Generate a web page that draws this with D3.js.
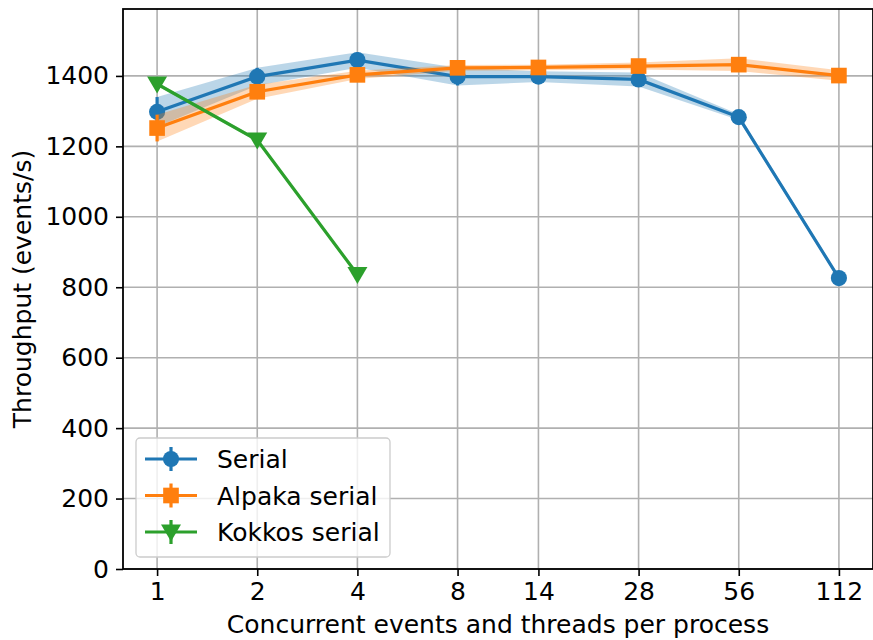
<!DOCTYPE html>
<html>
<head>
<meta charset="utf-8">
<script src="https://cdnjs.cloudflare.com/ajax/libs/d3/7.8.5/d3.min.js"></script>
<style>
  body { margin: 0; background: #fff; }
  svg { display: block; font-family: "DejaVu Sans", sans-serif; }
</style>
</head>
<body>
<div id="chart"></div>
<script>
var width = 873,
    height = 640;

// data
var threads = [1, 2, 4, 8, 14, 28, 56, 112];
var serial = [1298, 1398, 1445, 1398, 1398, 1390, 1283, 826];
var serialErr = [42, 25, 22, 25, 15, 20, 8, 6];
var alpaka = [1252, 1355, 1403, 1423, 1424, 1428, 1432, 1401];
var alpakaErr = [38, 20, 12, 8, 8, 10, 18, 15];
var kokkosThreads = [1, 2, 4];
var kokkos = [1377, 1218, 836];
var kokkosErr = [5, 5, 5];
var yTicks = [0, 200, 400, 600, 800, 1000, 1200, 1400];

var series = [
    {name: "Serial", x: threads, y: serial, err: serialErr, color: "#1f77b4", marker: "circle"},
    {name: "Alpaka serial", x: threads, y: alpaka, err: alpakaErr, color: "#ff7f0e", marker: "square"},
    {name: "Kokkos serial", x: kokkosThreads, y: kokkos, err: kokkosErr, color: "#2ca02c", marker: "tri"}
];

var plot = {left: 123, right: 873, top: 9, bottom: 569};
var fontSize = "25px";

// log2 axis with matplotlib style 5% padding
var lmax = Math.log2(112),
    pad = lmax * 0.05;
var x = d3.scaleLog().base(2)
    .domain([Math.pow(2, -pad), Math.pow(2, lmax + pad)])
    .range([plot.left, plot.right]);

var y = d3.scaleLinear()
    .domain([0, 1590])
    .range([plot.bottom, plot.top]);

var svg = d3.select("#chart").append("svg")
    .attr("width", width)
    .attr("height", height);

// grid
svg.append("g").selectAll("line")
    .data(threads)
    .enter().append("line")
    .attr("x1", function(d) { return x(d); })
    .attr("x2", function(d) { return x(d); })
    .attr("y1", plot.top)
    .attr("y2", plot.bottom)
    .attr("stroke", "#b0b0b0")
    .attr("stroke-width", 1.6);

svg.append("g").selectAll("line")
    .data(yTicks)
    .enter().append("line")
    .attr("x1", plot.left)
    .attr("x2", plot.right)
    .attr("y1", function(d) { return y(d); })
    .attr("y2", function(d) { return y(d); })
    .attr("stroke", "#b0b0b0")
    .attr("stroke-width", 1.6);

var markerPath = function(type, size) {
    if (type === "circle") {
        return d3.symbol().type(d3.symbolCircle).size(size)();
    } else if (type === "square") {
        return d3.symbol().type(d3.symbolSquare).size(size)();
    }
    var s = 10;
    return "M" + (-s) + "," + (-s * 0.75) + "L" + s + "," + (-s * 0.75) + "L0," + (s * 0.95) + "Z";
};

var markerSize = {circle: 205, square: 245, tri: 0};

series.forEach(function(s) {
    var pts = s.x.map(function(t, i) { return {t: t, v: s.y[i], e: s.err[i]}; });

    var area = d3.area()
        .x(function(d) { return x(d.t); })
        .y0(function(d) { return y(d.v - d.e); })
        .y1(function(d) { return y(d.v + d.e); });

    svg.append("path")
        .datum(pts)
        .attr("d", area)
        .attr("fill", s.color)
        .attr("fill-opacity", 0.3);

    var line = d3.line()
        .x(function(d) { return x(d.t); })
        .y(function(d) { return y(d.v); });

    svg.append("path")
        .datum(pts)
        .attr("d", line)
        .attr("fill", "none")
        .attr("stroke", s.color)
        .attr("stroke-width", 3.2);

    svg.append("g").selectAll("line")
        .data(pts)
        .enter().append("line")
        .attr("x1", function(d) { return x(d.t); })
        .attr("x2", function(d) { return x(d.t); })
        .attr("y1", function(d) { return y(d.v - d.e); })
        .attr("y2", function(d) { return y(d.v + d.e); })
        .attr("stroke", s.color)
        .attr("stroke-width", 3.2);

    svg.append("g").selectAll("path")
        .data(pts)
        .enter().append("path")
        .attr("transform", function(d) { return "translate(" + x(d.t) + "," + y(d.v) + ")"; })
        .attr("d", markerPath(s.marker, markerSize[s.marker]))
        .attr("fill", s.color);
});

// spines
svg.append("rect")
    .attr("x", plot.left)
    .attr("y", plot.top)
    .attr("width", plot.right - plot.left)
    .attr("height", plot.bottom - plot.top)
    .attr("fill", "none")
    .attr("stroke", "#000")
    .attr("stroke-width", 1.8);

// axes
var xAxis = d3.axisBottom(x)
    .tickValues(threads)
    .tickFormat(d3.format("d"))
    .tickSize(7)
    .tickPadding(6);

var gx = svg.append("g")
    .attr("transform", "translate(0," + plot.bottom + ")")
    .call(xAxis);

var yAxis = d3.axisLeft(y)
    .tickValues(yTicks)
    .tickFormat(d3.format("d"))
    .tickSize(7)
    .tickPadding(7);

var gy = svg.append("g")
    .attr("transform", "translate(" + plot.left + ",0)")
    .call(yAxis);

[gx, gy].forEach(function(g) {
    g.select(".domain").remove();
    g.selectAll(".tick line").attr("stroke", "#000").attr("stroke-width", 1.6);
    g.selectAll(".tick text")
        .attr("fill", "#000")
        .style("font-size", fontSize)
        .style("font-family", "DejaVu Sans");
});

svg.append("text")
    .attr("x", (plot.left + plot.right) / 2)
    .attr("y", 633)
    .attr("text-anchor", "middle")
    .style("font-size", fontSize)
    .text("Concurrent events and threads per process");

svg.append("text")
    .attr("transform", "translate(31," + ((plot.top + plot.bottom) / 2) + ") rotate(-90)")
    .attr("text-anchor", "middle")
    .style("font-size", fontSize)
    .text("Throughput (events/s)");

// legend
var legend = svg.append("g");

legend.append("rect")
    .attr("x", 136)
    .attr("y", 438)
    .attr("width", 254)
    .attr("height", 119)
    .attr("rx", 4)
    .attr("fill", "#fff")
    .attr("fill-opacity", 0.8)
    .attr("stroke", "#cccccc")
    .attr("stroke-width", 1.3);

var item = legend.selectAll(".item")
    .data(series)
    .enter().append("g")
    .attr("class", "item")
    .attr("transform", function(d, i) { return "translate(0," + (459 + i * 36.5) + ")"; });

item.append("line")
    .attr("x1", 145).attr("x2", 197)
    .attr("y1", 0).attr("y2", 0)
    .attr("stroke", function(d) { return d.color; })
    .attr("stroke-width", 3.2);

item.append("line")
    .attr("x1", 171).attr("x2", 171)
    .attr("y1", -12).attr("y2", 12)
    .attr("stroke", function(d) { return d.color; })
    .attr("stroke-width", 3.2);

item.append("path")
    .attr("transform", "translate(171,0)")
    .attr("d", function(d) { return markerPath(d.marker, markerSize[d.marker]); })
    .attr("fill", function(d) { return d.color; });

item.append("text")
    .attr("x", 217)
    .attr("y", 9)
    .style("font-size", fontSize)
    .text(function(d) { return d.name; });
</script>
</body>
</html>
